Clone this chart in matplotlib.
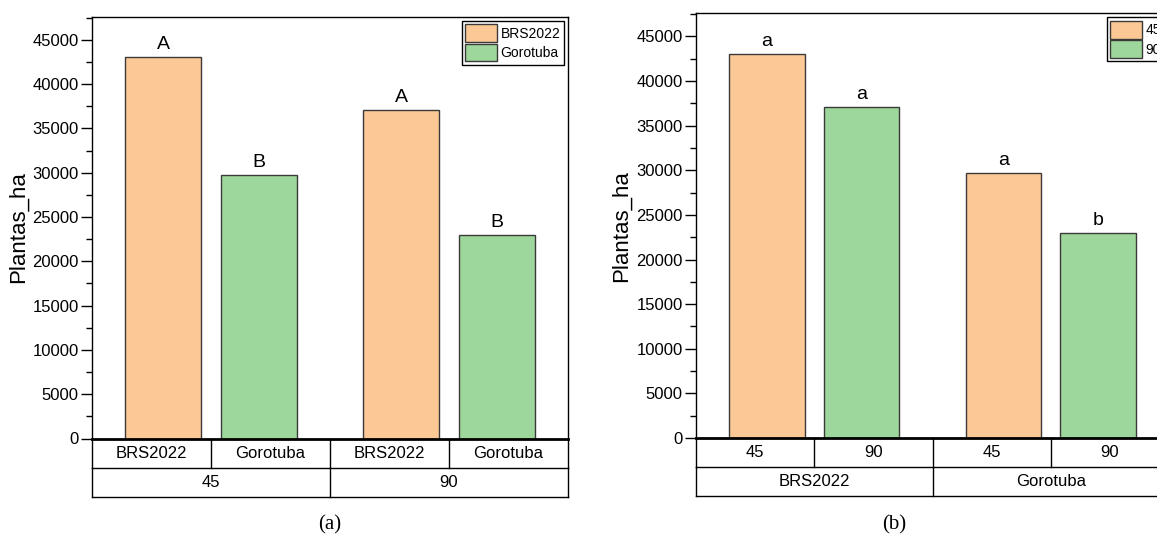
import matplotlib
matplotlib.use('Agg')
import matplotlib.pyplot as plt
from matplotlib.ticker import MultipleLocator

plt.rcParams['font.family'] = ['Liberation Sans', 'DejaVu Sans']

# data (plants per hectare)
spacings = ['45', '90']
cultivars = ['BRS2022', 'Gorotuba']
brs2022 = [43000, 37100]    # at 45, 90
gorotuba = [29700, 23000]   # at 45, 90
letters_a = [['A', 'B'], ['A', 'B']]   # per spacing: BRS2022, Gorotuba
letters_b = [['a', 'a'], ['a', 'b']]   # per cultivar: 45, 90

orange = '#FCC896'
green = '#9ED79B'

W, H = 1157, 548
fig = plt.figure(figsize=(W / 100, H / 100), dpi=100)

# panel positions in pixels (left, right, top, bottom)
ax_a = fig.add_axes([92 / W, 1 - 438.5 / H, (568 - 92) / W, (438.5 - 16.7) / H])
ax_b = fig.add_axes([696 / W, 1 - 438 / H, (1169 - 696) / W, (438 - 13.3) / H])


def draw_panel(ax, groups, subs, values, letters):
    colors = [orange, green]
    for gi, g in enumerate(groups):
        for si, s in enumerate(subs):
            x = 2 * gi + 1 + (si - 0.5) * 0.8
            v = values[gi][si]
            ax.bar(x, v, width=0.64, color=colors[si], edgecolor='#3a3a3a',
                   linewidth=1, label=s if gi == 0 else None, zorder=2)
            ax.text(x, v + 450, letters[gi][si], ha='center', va='bottom', fontsize=14)

    ax.set_xlim(0, 4)
    ax.set_ylim(0, 47600)
    ax.set_xticks([])
    ax.yaxis.set_major_locator(MultipleLocator(5000))
    ax.yaxis.set_minor_locator(MultipleLocator(2500))
    ax.tick_params(axis='y', which='major', direction='out', length=8, width=1,
                   labelsize=12, pad=1.5)
    ax.tick_params(axis='y', which='minor', direction='out', length=4.5, width=1)
    for side in ['left', 'top', 'right']:
        ax.spines[side].set_linewidth(1)
        ax.spines[side].set_color('black')
    ax.spines['bottom'].set_linewidth(2)

    # two-row category table under the axis
    tr = ax.get_xaxis_transform()
    r = 29 / 421.5
    kw = dict(color='black', lw=1, transform=tr, clip_on=False)
    ax.plot([0, 4], [-r, -r], **kw)
    ax.plot([0, 4], [-2 * r, -2 * r], **kw)
    for x in range(5):
        ax.plot([x, x], [0, -r], **kw)
    for x in [0, 2, 4]:
        ax.plot([x, x], [-r, -2 * r], **kw)
    for gi, g in enumerate(groups):
        for si, s in enumerate(subs):
            ax.text(2 * gi + si + 0.5, -r / 2, s, transform=tr, ha='center',
                    va='center', fontsize=12)
        ax.text(2 * gi + 1, -1.5 * r, g, transform=tr, ha='center',
                va='center', fontsize=12)

    leg = ax.legend(loc='upper right', fontsize=10, fancybox=False, edgecolor='black',
                    framealpha=1, handlelength=2.3, handleheight=1.6,
                    labelspacing=0.1, handletextpad=0.25, borderpad=0.25,
                    borderaxespad=0.3)
    leg.get_frame().set_linewidth(1)


# (a) cultivars within spacing
vals_a = [[brs2022[i], gorotuba[i]] for i in range(2)]
draw_panel(ax_a, spacings, cultivars, vals_a, letters_a)

# (b) spacings within cultivar
vals_b = [brs2022, gorotuba]
draw_panel(ax_b, cultivars, spacings, vals_b, letters_b)

fig.text(18 / W, 1 - 227 / H, 'Plantas_ha', rotation=90, ha='center', va='center', fontsize=16)
fig.text(621 / W, 1 - 226 / H, 'Plantas_ha', rotation=90, ha='center', va='center', fontsize=16)

fig.text(330 / W, 1 - 525 / H, '(a)', family='Liberation Serif', fontsize=15,
         ha='center', va='center')
fig.text(894 / W, 1 - 525 / H, '(b)', family='Liberation Serif', fontsize=15,
         ha='center', va='center')

fig.savefig('out.png', dpi=100)
